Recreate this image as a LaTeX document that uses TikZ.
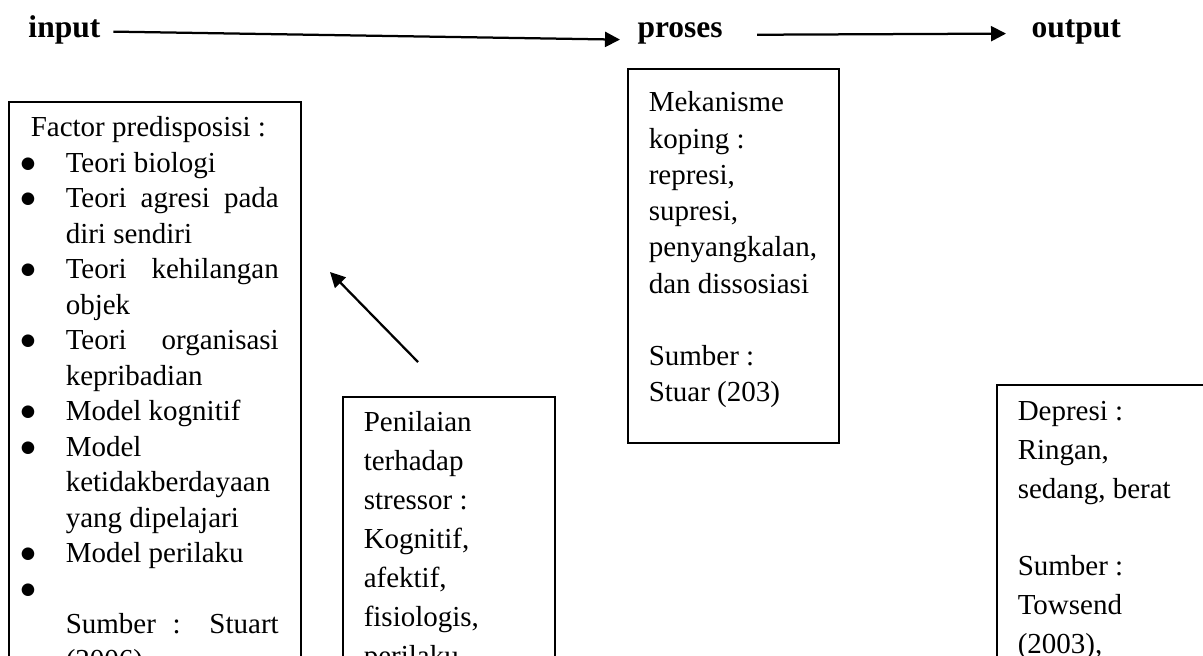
\documentclass[tikz,border=0pt]{standalone}
\usepackage{fontspec}
\setmainfont{Liberation Serif}
\newfontfamily\dotfont{DejaVu Sans}
\usetikzlibrary{arrows.meta}
\newcommand{\bul}{\makebox[18.8pt][l]{\hspace*{0.8pt}\raisebox{1.7pt}{\dotfont\fontsize{6.6}{7}\selectfont\symbol{"25CF}}}}
\newcommand{\ind}{\hspace*{18.8pt}}
\newcommand{\jl}[1]{\makebox[85.2pt][s]{#1}}

\begin{document}
\begin{tikzpicture}[x=0.4pt, y=-0.4pt,
			every node/.style = {inner sep=0pt},
			head/.style = {font=\bfseries\fontsize{12.6}{15}\selectfont, anchor=base west},
			box/.style = {draw, line width=0.6pt, anchor=north west, inner xsep=8.4pt,
				font=\fontsize{11.6}{14}\selectfont},
			arr/.style = {line width=0.9pt, -{Triangle[length=6pt,width=6pt]}}]
			\useasboundingbox (0,0) rectangle (1203,655);
			\clip (0,0) rectangle (1203,655);
			\node[head] (input) at (28,37) {input};
			\node[head] (proses) at (637,37) {proses};
			\node[head] (output) at (1031,37) {output};
			\draw[arr, shorten <=5pt, shorten >=6.8pt] ([yshift=-0.8pt]input.east) -- ([yshift=-2.8pt]proses.west);
			\draw[arr, shorten <=13.6pt, shorten >=10pt] ([yshift=-0.8pt]proses.east) -- ([yshift=-0.8pt]output.west);
			\node[box, inner xsep=4pt, inner ysep=6pt] (pred) at (8,101) {\parbox[t]{108.8pt}{\fontsize{11.6}{14.2}\selectfont
				\hspace*{4.8pt}Factor predisposisi :\\
				\bul Teori biologi\\
				\bul\jl{Teori agresi pada}\\
				\ind diri sendiri\\
				\bul\jl{Teori kehilangan}\\
				\ind objek\\
				\bul\jl{Teori organisasi}\\
				\ind kepribadian\\
				\bul Model kognitif\\
				\bul Model\\
				\ind ketidakberdayaan\\
				\ind yang dipelajari\\
				\bul Model perilaku\\
				\bul\\
				\ind\jl{Sumber : Stuart}\\
				\ind (2006)}};
			\node[box, inner ysep=6pt] (pen) at (342,396) {\parbox[t]{68pt}{\fontsize{11.6}{15.6}\selectfont
				Penilaian\\ terhadap\\ stressor :\\ Kognitif,\\ afektif,\\ fisiologis,\\ perilaku}};
			\node[box, inner ysep=9.2pt] (mek) at (627,68) {\parbox[c][131.2pt][t]{67.6pt}{\fontsize{11.6}{14.5}\selectfont
				Mekanisme\\ koping :\\ represi,\\ supresi,\\ penyangkalan,\\ dan dissosiasi\\[14.5pt]
				Sumber :\\ Stuar (203)}};
			\node[box, inner ysep=6.8pt] (dep) at (996,384) {\parbox[t]{68pt}{\fontsize{11.6}{15.5}\selectfont
				Depresi :\\ Ringan,\\ sedang, berat\\[15.5pt]
				Sumber :\\ Towsend\\ (2003),}};
			\coordinate (penTail) at (418,362);
			\coordinate (predTip) at (330,272);
			\draw[arr] (penTail) -- (predTip);
		\end{tikzpicture}
\end{document}
